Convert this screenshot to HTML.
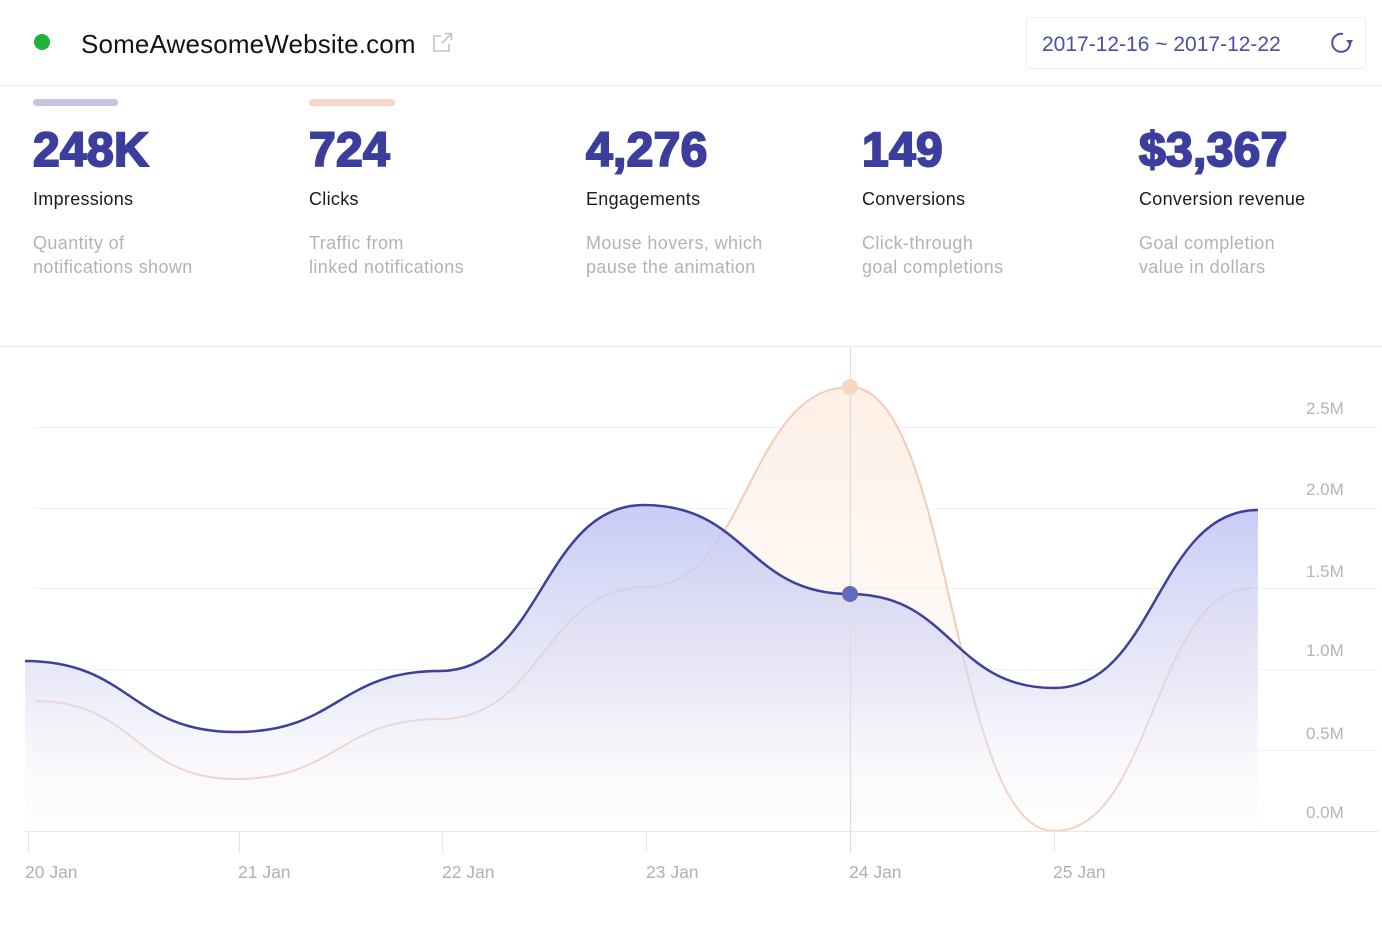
<!DOCTYPE html>
<html>
<head>
<meta charset="utf-8">
<style>
  html, body { margin:0; padding:0; }
  body { width:1382px; height:952px; overflow:hidden; background:#ffffff; position:relative; font-family:"Liberation Sans", sans-serif; }
  .abs { position:absolute; white-space:nowrap; }
  .num { font-size:48px; line-height:48px; font-weight:bold; color:#3c3e9d; -webkit-text-stroke:2px #3c3e9d; letter-spacing:0.3px; top:127px; }
  .lbl { font-size:18px; line-height:18px; color:#1c1c1c; top:190px; letter-spacing:0.3px; }
  .desc { font-size:18px; line-height:24px; color:#b3b3b3; top:231px; letter-spacing:0.4px; }
</style>
</head>
<body>

<svg class="abs" style="left:0;top:0" width="1382" height="952" viewBox="0 0 1382 952" xmlns="http://www.w3.org/2000/svg">
  <defs>
    <linearGradient id="gBlue" gradientUnits="userSpaceOnUse" x1="0" y1="505" x2="0" y2="828">
      <stop offset="0" stop-color="#c1c6f6" stop-opacity="0.9"/>
      <stop offset="0.55" stop-color="#dcdcf4" stop-opacity="0.6"/>
      <stop offset="1" stop-color="#f7f6fc" stop-opacity="0.1"/>
    </linearGradient>
    <linearGradient id="gOrange" gradientUnits="userSpaceOnUse" x1="0" y1="387" x2="0" y2="831">
      <stop offset="0" stop-color="#fbe2d0" stop-opacity="0.55"/>
      <stop offset="0.6" stop-color="#fdeee4" stop-opacity="0.3"/>
      <stop offset="1" stop-color="#fdf3ec" stop-opacity="0.05"/>
    </linearGradient>
  </defs>

  <!-- header -->
  <circle cx="42" cy="42" r="8" fill="#1fb23a"/>
  <text x="81" y="53" font-family="Liberation Sans, sans-serif" font-size="26" fill="#141414" letter-spacing="0.15">SomeAwesomeWebsite.com</text>
  <!-- external link icon -->
  <g fill="none" stroke="#c2c2c2" stroke-width="1.6">
    <path d="M441 36 H434 V51 H449 V44"/>
    <path d="M442 43 L451 34"/>
    <path d="M445 33.5 H451.5 V40"/>
  </g>
  <!-- date box -->
  <rect x="1026.5" y="17.5" width="339" height="51" rx="4" fill="#ffffff" stroke="#eeeeee" stroke-width="1"/>
  <text x="1042" y="51" font-family="Liberation Sans, sans-serif" font-size="21" fill="#4b4ea6">2017-12-16 ~ 2017-12-22</text>
  <g fill="none" stroke="#4b4ea6" stroke-width="2">
    <path d="M1350 41 A9 9 0 1 1 1343 34"/>
  </g>
  <path d="M1346 40 L1353 40 L1350 45 Z" fill="#4b4ea6"/>

  <line x1="0" y1="85.5" x2="1382" y2="85.5" stroke="#f0f0f0" stroke-width="1"/>

  <!-- legend bars -->
  <rect x="33" y="99" width="85" height="7" rx="3.5" fill="#c3c3e2"/>
  <rect x="309" y="99" width="86" height="7" rx="3.5" fill="#f6d6c5"/>

  <!-- chart frame -->
  <line x1="0" y1="346.5" x2="1382" y2="346.5" stroke="#ebebeb" stroke-width="1"/>
  <g stroke="#f3f3f3" stroke-width="1">
    <line x1="33" y1="427.5" x2="1378" y2="427.5"/>
    <line x1="33" y1="508.5" x2="1378" y2="508.5"/>
    <line x1="33" y1="588.5" x2="1378" y2="588.5"/>
    <line x1="33" y1="669.5" x2="1378" y2="669.5"/>
    <line x1="33" y1="750.5" x2="1378" y2="750.5"/>
  </g>

  <!-- orange area -->
  <path d="M35,701 C135.5,701 135.5,779 236,779 C338,779 338,719 440,719 C543,719 543,587 646,587 C748,587 748,387 850,387 C952,387 952,831 1054,831 C1153.5,831 1153.5,588 1253,588 L1253,831 L35,831 Z" fill="url(#gOrange)"/>
  <path d="M35,701 C135.5,701 135.5,779 236,779 C338,779 338,719 440,719 C543,719 543,587 646,587 C748,587 748,387 850,387 C952,387 952,831 1054,831 C1153.5,831 1153.5,588 1253,588" fill="none" stroke="#f1cdb6" stroke-width="2"/>

  <!-- blue area -->
  <path d="M25,661 C130.5,661 130.5,732 236,732 C338,732 338,671 440,671 C542,671 542,505 644,505 C747,505 747,594 850,594 C952,594 952,688 1054,688 C1156,688 1156,510 1258,510 L1258,831 L25,831 Z" fill="url(#gBlue)"/>

  <!-- axis -->
  <line x1="25" y1="831.5" x2="1378" y2="831.5" stroke="#e8e8e8" stroke-width="1"/>
  <g stroke="#e6e6e6" stroke-width="1">
    <line x1="28.5" y1="831" x2="28.5" y2="853"/>
    <line x1="239.5" y1="831" x2="239.5" y2="853"/>
    <line x1="442.5" y1="831" x2="442.5" y2="853"/>
    <line x1="646.5" y1="831" x2="646.5" y2="853"/>
    <line x1="1054.5" y1="831" x2="1054.5" y2="853"/>
  </g>
  <!-- hover line -->
  <line x1="850.5" y1="347" x2="850.5" y2="853" stroke="#dcdce3" stroke-width="1.2"/>

  <!-- blue line -->
  <path d="M25,661 C130.5,661 130.5,732 236,732 C338,732 338,671 440,671 C542,671 542,505 644,505 C747,505 747,594 850,594 C952,594 952,688 1054,688 C1156,688 1156,510 1258,510" fill="none" stroke="#3e4099" stroke-width="2.5"/>

  <!-- dots -->
  <circle cx="850" cy="387" r="8" fill="#f5d6c2"/>
  <circle cx="850" cy="594" r="8" fill="#6569b9"/>

  <!-- y labels -->
  <g font-family="Liberation Sans, sans-serif" font-size="17" fill="#b5b5b5">
    <text x="1306" y="414">2.5M</text>
    <text x="1306" y="495">2.0M</text>
    <text x="1306" y="577">1.5M</text>
    <text x="1306" y="656">1.0M</text>
    <text x="1306" y="739">0.5M</text>
    <text x="1306" y="818">0.0M</text>
  </g>
  <!-- x labels -->
  <g font-family="Liberation Sans, sans-serif" font-size="17.5" fill="#b0b0b0">
    <text x="25" y="878">20 Jan</text>
    <text x="238" y="878">21 Jan</text>
    <text x="442" y="878">22 Jan</text>
    <text x="646" y="878">23 Jan</text>
    <text x="849" y="878">24 Jan</text>
    <text x="1053" y="878">25 Jan</text>
  </g>
</svg>

<!-- stats -->
<div class="abs num" style="left:33px">248K</div>
<div class="abs lbl" style="left:33px">Impressions</div>
<div class="abs desc" style="left:33px">Quantity of<br>notifications shown</div>

<div class="abs num" style="left:309px">724</div>
<div class="abs lbl" style="left:309px">Clicks</div>
<div class="abs desc" style="left:309px">Traffic from<br>linked notifications</div>

<div class="abs num" style="left:586px">4,276</div>
<div class="abs lbl" style="left:586px">Engagements</div>
<div class="abs desc" style="left:586px">Mouse hovers, which<br>pause the animation</div>

<div class="abs num" style="left:862px">149</div>
<div class="abs lbl" style="left:862px">Conversions</div>
<div class="abs desc" style="left:862px">Click-through<br>goal completions</div>

<div class="abs num" style="left:1139px">$3,367</div>
<div class="abs lbl" style="left:1139px">Conversion revenue</div>
<div class="abs desc" style="left:1139px">Goal completion<br>value in dollars</div>

</body>
</html>
